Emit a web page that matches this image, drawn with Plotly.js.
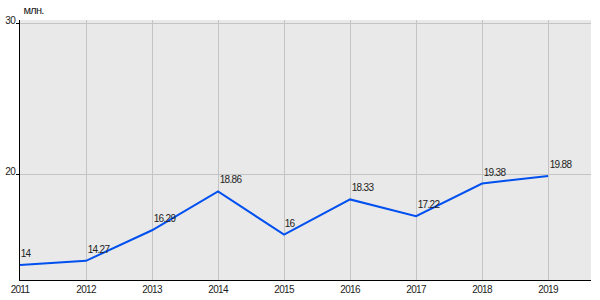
<!DOCTYPE html>
<html><head><meta charset="utf-8">
<script src="https://cdn.plot.ly/plotly-3.0.1.min.js"></script>
<style>html,body{margin:0;padding:0;background:#fff}#chart{width:600px;height:300px}
.main-svg text{letter-spacing:-0.7px}</style>
</head><body><div id="chart"></div>
<script>
var years = [2011, 2012, 2013, 2014, 2015, 2016, 2017, 2018, 2019];
var values = [14, 14.27, 16.29, 18.86, 16, 18.33, 17.22, 19.38, 19.88];
var labels = ['14', '14.27', '16.29', '18.86', '16', '18.33', '17.22', '19.38', '19.88'];
var yTicks = [20, 30];
var unit = 'млн.';

var fontFam = 'Liberation Sans, Arial, sans-serif';
var trace = {
  x: years, y: values, type: 'scatter', mode: 'lines',
  line: {color: '#0050ef', width: 2}, cliponaxis: false, hoverinfo: 'none'
};
var annos = years.map(function (yr, i) {
  return {x: yr, y: values[i], text: labels[i], xref: 'x', yref: 'y',
    xanchor: 'left', yanchor: 'bottom', xshift: -2, yshift: 4, showarrow: false,
    font: {family: fontFam, size: 10, color: '#222'}};
});
annos.push({text: unit, xref: 'paper', yref: 'paper', x: 0, y: 1, xanchor: 'left', yanchor: 'bottom', yshift: 2,
  showarrow: false, font: {family: fontFam, size: 11, color: '#222'}});
var layout = {
  width: 600, height: 300,
  margin: {l: 20, r: 9, t: 20, b: 20},
  paper_bgcolor: '#fff', plot_bgcolor: '#e9e9e9',
  showlegend: false,
  font: {family: fontFam, size: 10, color: '#222'},
  xaxis: {range: [2011, 2019.65], tickvals: years, ticktext: years.map(String),
    showgrid: true, gridcolor: '#c4c4c4', gridwidth: 1, zeroline: false,
    showline: true, linecolor: '#000', linewidth: 1, ticks: '', fixedrange: true},
  yaxis: {range: [13, 30.2], tickvals: yTicks, ticktext: yTicks.map(String),
    showgrid: true, gridcolor: '#c4c4c4', gridwidth: 1, zeroline: false,
    showline: true, linecolor: '#000', linewidth: 1, ticks: 'outside', ticklen: 3, tickcolor: '#000',
    ticklabelshift: -3, ticklabelstandoff: -1, fixedrange: true},
  annotations: annos
};
Plotly.newPlot('chart', [trace], layout, {displayModeBar: false, staticPlot: true});
</script></body></html>
